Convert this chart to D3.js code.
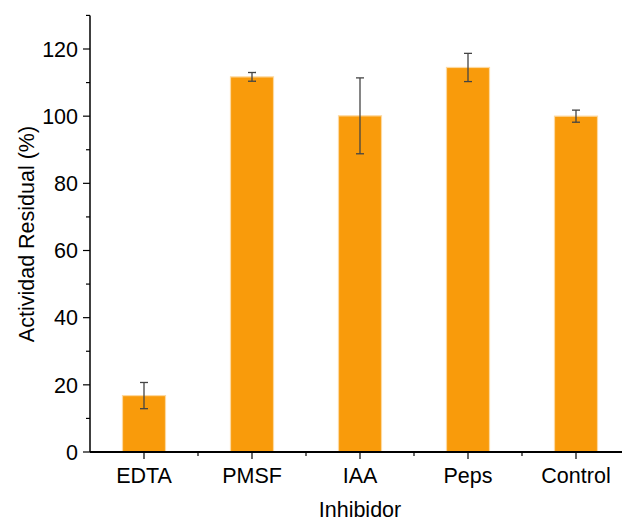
<!DOCTYPE html>
<html><head><meta charset="utf-8">
<script src="https://cdn.jsdelivr.net/npm/d3@7"></script>
<style>body{margin:0;background:#fff}svg{display:block}text{font-family:"Liberation Sans",Arial,sans-serif}</style>
</head><body><svg id="c" width="622" height="522"></svg>
<script>
const categories = ["EDTA","PMSF","IAA","Peps","Control"];
const values = [16.8, 111.7, 100.1, 114.5, 100.0];
const errors = [3.9, 1.3, 11.3, 4.2, 1.8];
const yTicks = [0,20,40,60,80,100,120];
const yMinor = [10,30,50,70,90,110,130];

const svg = d3.select("#c");
const x0 = 90, yBase = 452, step = 108;
const x = d3.scaleLinear().domain([0,5]).range([x0, x0+5*step]);
const y = d3.scaleLinear().domain([0,120]).range([yBase, 49]);
const bw = 43;

const g = svg.append("g");
g.selectAll("rect.bar").data(values).join("rect")
  .attr("x",(d,i)=>x(i+0.5)-bw/2).attr("y",d=>y(d))
  .attr("width",bw).attr("height",d=>yBase-y(d))
  .attr("fill","#F99B0B").attr("stroke","#FDD9A0").attr("stroke-width",1.2);

const eb = g.selectAll("g.err").data(values).join("g").attr("stroke","#444").attr("stroke-width",1.3);
eb.append("line").attr("x1",(d,i)=>x(i+0.5)).attr("x2",(d,i)=>x(i+0.5))
  .attr("y1",(d,i)=>y(d+errors[i])).attr("y2",(d,i)=>y(d-errors[i]));
eb.append("line").attr("x1",(d,i)=>x(i+0.5)-4).attr("x2",(d,i)=>x(i+0.5)+4)
  .attr("y1",(d,i)=>y(d+errors[i])).attr("y2",(d,i)=>y(d+errors[i]));
eb.append("line").attr("x1",(d,i)=>x(i+0.5)-4).attr("x2",(d,i)=>x(i+0.5)+4)
  .attr("y1",(d,i)=>y(d-errors[i])).attr("y2",(d,i)=>y(d-errors[i]));

// Y axis
const ya = svg.append("g").attr("transform",`translate(${x0},0)`);
ya.append("line").attr("x1",0).attr("x2",0).attr("y1",y(130)).attr("y2",yBase).attr("stroke","#000").attr("stroke-width",1.5);
ya.selectAll("line.maj").data(yTicks).join("line").attr("x1",-7).attr("x2",0)
  .attr("y1",d=>y(d)).attr("y2",d=>y(d)).attr("stroke","#000").attr("stroke-width",1.2);
ya.selectAll("line.min").data(yMinor).join("line").attr("x1",-4).attr("x2",0)
  .attr("y1",d=>y(d)).attr("y2",d=>y(d)).attr("stroke","#000").attr("stroke-width",1.2);
ya.selectAll("text").data(yTicks).join("text").attr("x",-12).attr("y",d=>y(d)).attr("dy","0.36em")
  .attr("text-anchor","end").attr("font-size",21.5).text(d=>d);

// X axis
const xa = svg.append("g").attr("transform",`translate(0,${yBase})`);
xa.append("line").attr("x1",x0).attr("x2",622).attr("y1",0).attr("y2",0).attr("stroke","#000").attr("stroke-width",2);
xa.selectAll("line.maj").data(categories).join("line").attr("x1",(d,i)=>x(i+0.5)).attr("x2",(d,i)=>x(i+0.5))
  .attr("y1",0).attr("y2",7).attr("stroke","#000").attr("stroke-width",1.2);
xa.selectAll("line.min").data([1,2,3,4]).join("line").attr("x1",d=>x(d)).attr("x2",d=>x(d))
  .attr("y1",0).attr("y2",4).attr("stroke","#000").attr("stroke-width",1.2);
xa.selectAll("text").data(categories).join("text").attr("x",(d,i)=>x(i+0.5)).attr("y",31)
  .attr("text-anchor","middle").attr("font-size",21.5).text(d=>d);

svg.append("text").attr("x",360).attr("y",517).attr("text-anchor","middle").attr("font-size",21.5).text("Inhibidor");
svg.append("text").attr("transform","translate(34,234) rotate(-90)").attr("text-anchor","middle").attr("font-size",21.5).text("Actividad Residual (%)");
</script></body></html>
